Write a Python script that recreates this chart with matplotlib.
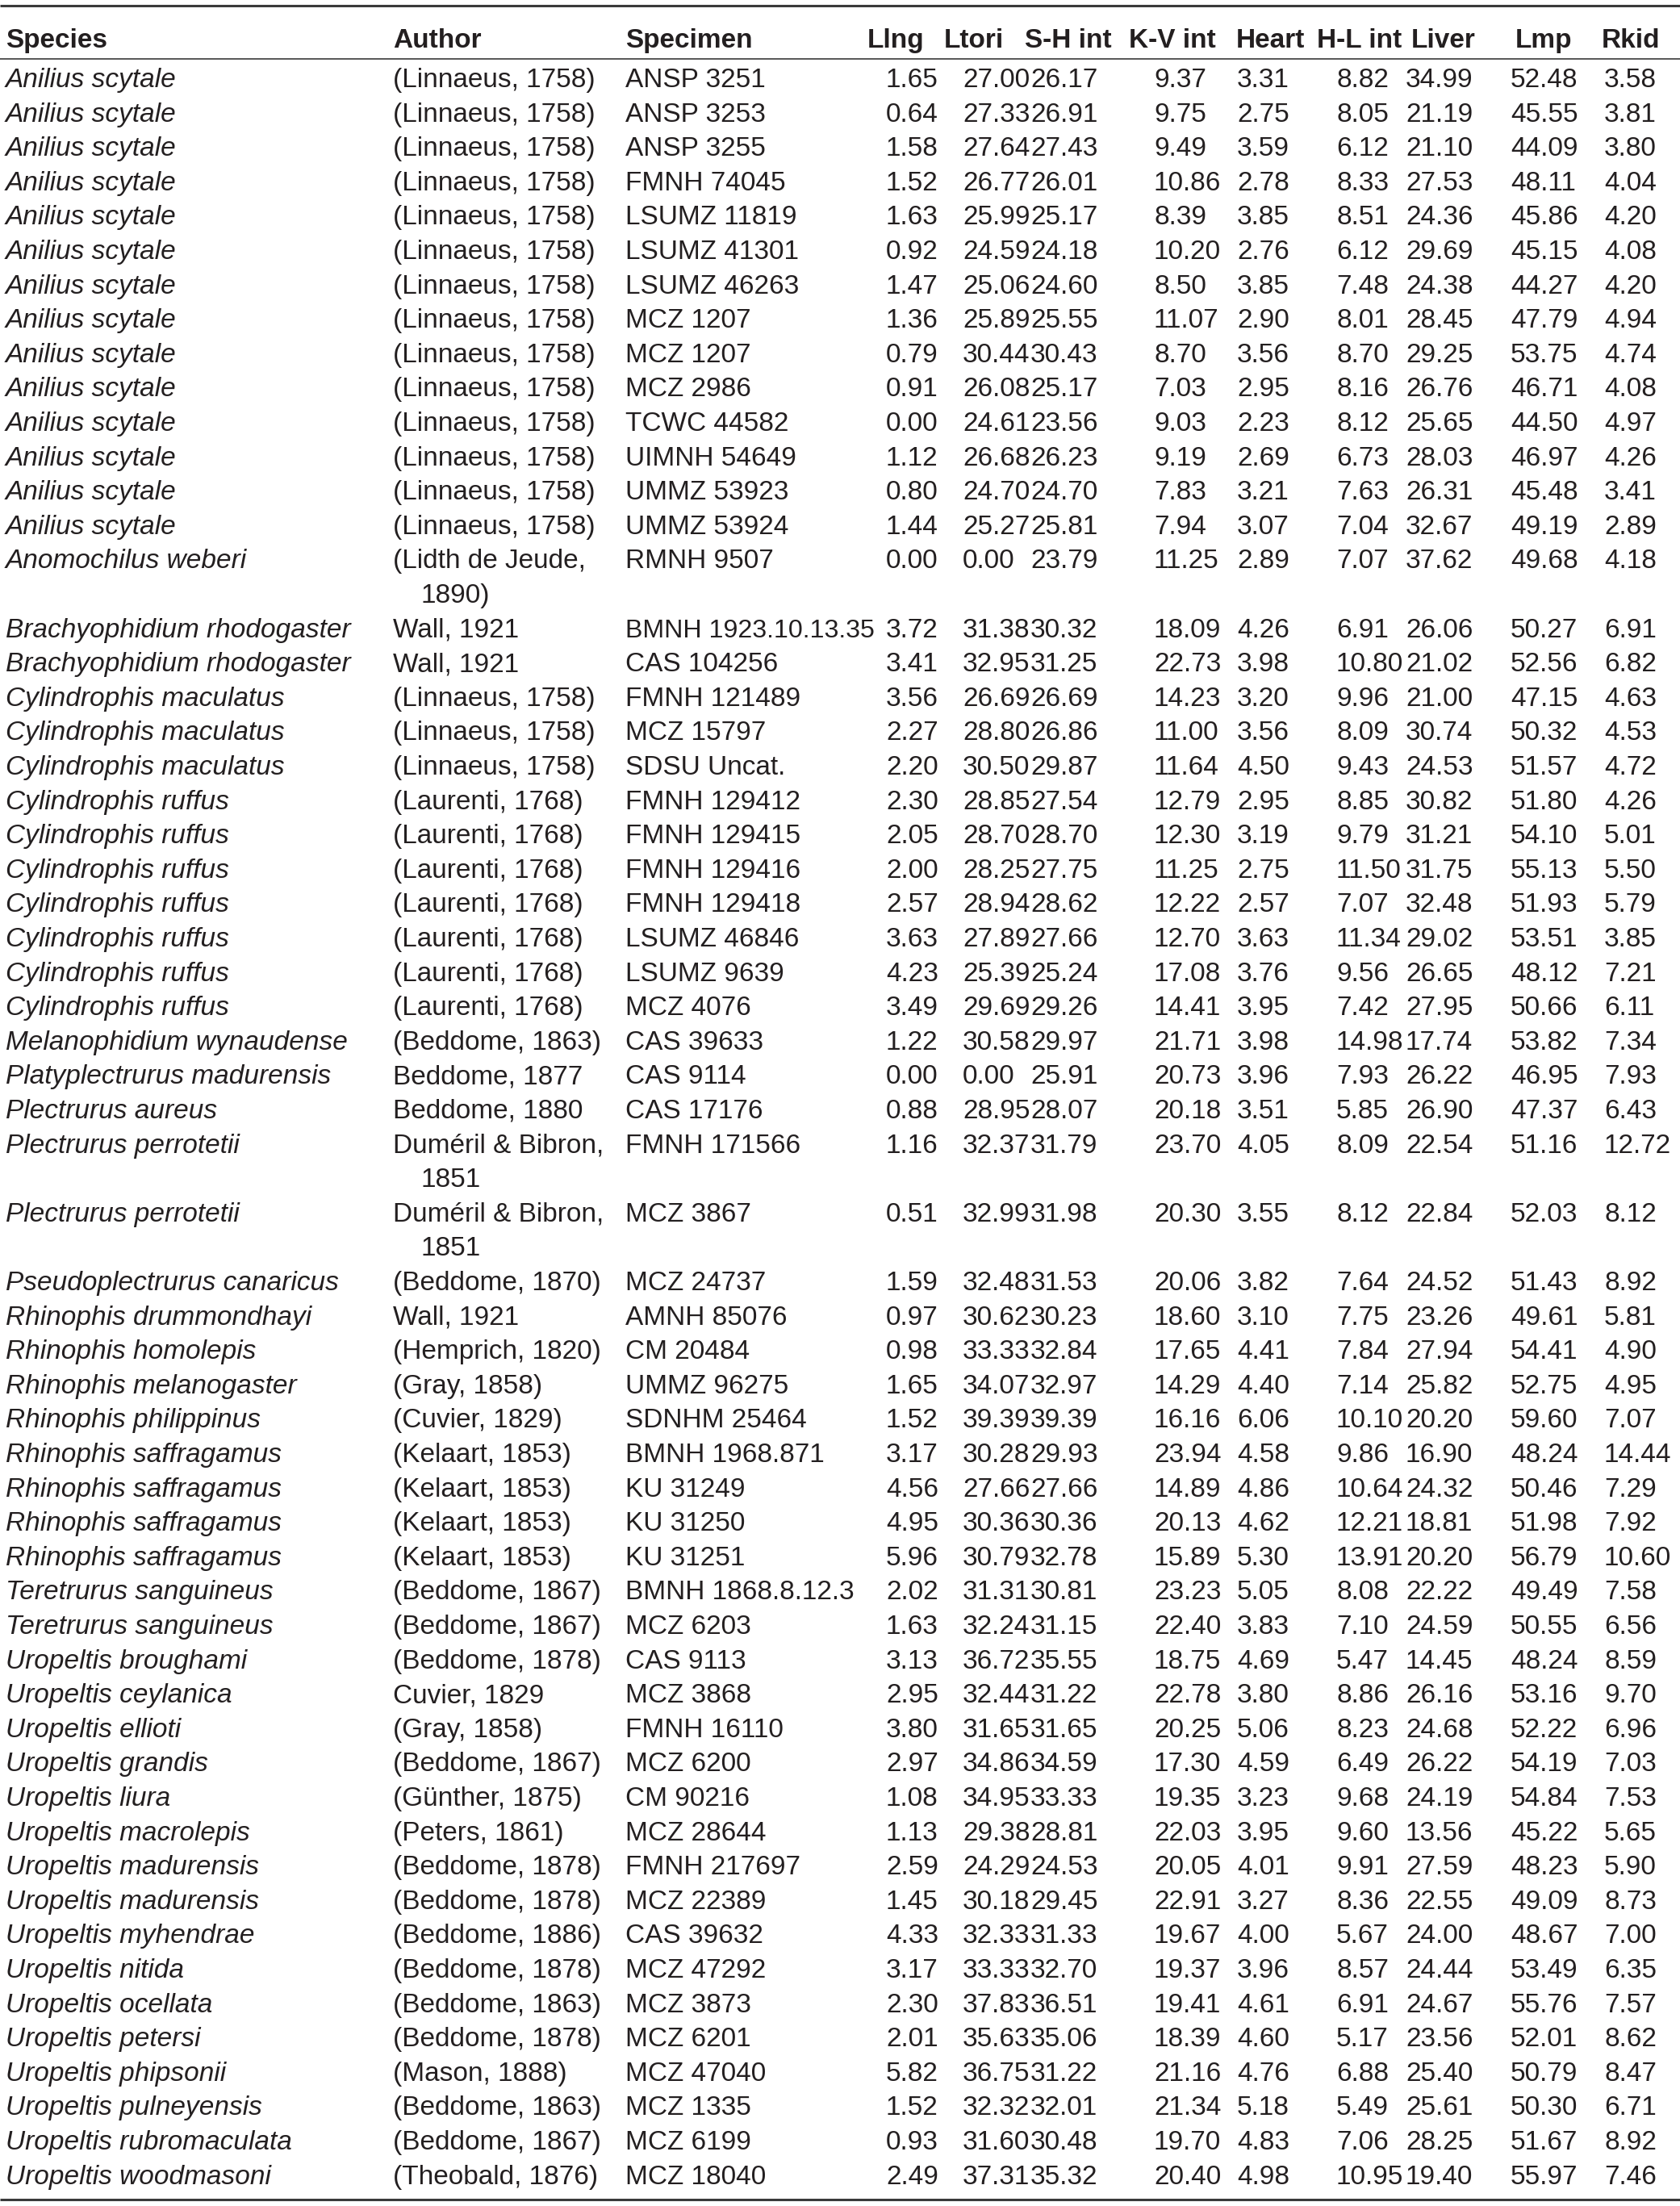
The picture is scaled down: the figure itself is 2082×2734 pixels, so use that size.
import matplotlib
matplotlib.use("Agg")
import matplotlib.pyplot as plt
from matplotlib import font_manager

# ---------------- data ----------------
headers = ["Species", "Author", "Specimen", "Llng", "Ltori", "S-H int", "K-V int",
           "Heart", "H-L int", "Liver", "Lmp", "Rkid"]

species = (["Anilius scytale"] * 14 + ["Anomochilus weberi"] +
           ["Brachyophidium rhodogaster"] * 2 + ["Cylindrophis maculatus"] * 3 +
           ["Cylindrophis ruffus"] * 7 + ["Melanophidium wynaudense",
           "Platyplectrurus madurensis", "Plectrurus aureus",
           "Plectrurus perrotetii", "Plectrurus perrotetii",
           "Pseudoplectrurus canaricus", "Rhinophis drummondhayi",
           "Rhinophis homolepis", "Rhinophis melanogaster", "Rhinophis philippinus"] +
           ["Rhinophis saffragamus"] * 4 + ["Teretrurus sanguineus"] * 2 +
           ["Uropeltis broughami", "Uropeltis ceylanica", "Uropeltis ellioti",
            "Uropeltis grandis", "Uropeltis liura", "Uropeltis macrolepis",
            "Uropeltis madurensis", "Uropeltis madurensis", "Uropeltis myhendrae",
            "Uropeltis nitida", "Uropeltis ocellata", "Uropeltis petersi",
            "Uropeltis phipsonii", "Uropeltis pulneyensis", "Uropeltis rubromaculata",
            "Uropeltis woodmasoni"])

authors = (["(Linnaeus, 1758)"] * 14 + ["(Lidth de Jeude,\n1890)"] +
           ["Wall, 1921"] * 2 + ["(Linnaeus, 1758)"] * 3 + ["(Laurenti, 1768)"] * 7 +
           ["(Beddome, 1863)", "Beddome, 1877", "Beddome, 1880",
            "Duméril & Bibron,\n1851", "Duméril & Bibron,\n1851",
            "(Beddome, 1870)", "Wall, 1921", "(Hemprich, 1820)", "(Gray, 1858)",
            "(Cuvier, 1829)"] + ["(Kelaart, 1853)"] * 4 + ["(Beddome, 1867)"] * 2 +
           ["(Beddome, 1878)", "Cuvier, 1829", "(Gray, 1858)", "(Beddome, 1867)",
            "(Günther, 1875)", "(Peters, 1861)", "(Beddome, 1878)", "(Beddome, 1878)",
            "(Beddome, 1886)", "(Beddome, 1878)", "(Beddome, 1863)", "(Beddome, 1878)",
            "(Mason, 1888)", "(Beddome, 1863)", "(Beddome, 1867)", "(Theobald, 1876)"])

specimens = ["ANSP 3251", "ANSP 3253", "ANSP 3255", "FMNH 74045", "LSUMZ 11819",
             "LSUMZ 41301", "LSUMZ 46263", "MCZ 1207", "MCZ 1207", "MCZ 2986",
             "TCWC 44582", "UIMNH 54649", "UMMZ 53923", "UMMZ 53924", "RMNH 9507",
             "BMNH 1923.10.13.35", "CAS 104256", "FMNH 121489", "MCZ 15797",
             "SDSU Uncat.", "FMNH 129412", "FMNH 129415", "FMNH 129416",
             "FMNH 129418", "LSUMZ 46846", "LSUMZ 9639", "MCZ 4076", "CAS 39633",
             "CAS 9114", "CAS 17176", "FMNH 171566", "MCZ 3867", "MCZ 24737",
             "AMNH 85076", "CM 20484", "UMMZ 96275", "SDNHM 25464", "BMNH 1968.871",
             "KU 31249", "KU 31250", "KU 31251", "BMNH 1868.8.12.3", "MCZ 6203",
             "CAS 9113", "MCZ 3868", "FMNH 16110", "MCZ 6200", "CM 90216",
             "MCZ 28644", "FMNH 217697", "MCZ 22389", "CAS 39632", "MCZ 47292",
             "MCZ 3873", "MCZ 6201", "MCZ 47040", "MCZ 1335", "MCZ 6199", "MCZ 18040"]

llng = [1.65, 0.64, 1.58, 1.52, 1.63, 0.92, 1.47, 1.36, 0.79, 0.91, 0.00, 1.12, 0.80,
        1.44, 0.00, 3.72, 3.41, 3.56, 2.27, 2.20, 2.30, 2.05, 2.00, 2.57, 3.63, 4.23,
        3.49, 1.22, 0.00, 0.88, 1.16, 0.51, 1.59, 0.97, 0.98, 1.65, 1.52, 3.17, 4.56,
        4.95, 5.96, 2.02, 1.63, 3.13, 2.95, 3.80, 2.97, 1.08, 1.13, 2.59, 1.45, 4.33,
        3.17, 2.30, 2.01, 5.82, 1.52, 0.93, 2.49]

ltori = [27.00, 27.33, 27.64, 26.77, 25.99, 24.59, 25.06, 25.89, 30.44, 26.08, 24.61,
         26.68, 24.70, 25.27, 0.00, 31.38, 32.95, 26.69, 28.80, 30.50, 28.85, 28.70,
         28.25, 28.94, 27.89, 25.39, 29.69, 30.58, 0.00, 28.95, 32.37, 32.99, 32.48,
         30.62, 33.33, 34.07, 39.39, 30.28, 27.66, 30.36, 30.79, 31.31, 32.24, 36.72,
         32.44, 31.65, 34.86, 34.95, 29.38, 24.29, 30.18, 32.33, 33.33, 37.83, 35.63,
         36.75, 32.32, 31.60, 37.31]

sh_int = [26.17, 26.91, 27.43, 26.01, 25.17, 24.18, 24.60, 25.55, 30.43, 25.17, 23.56,
          26.23, 24.70, 25.81, 23.79, 30.32, 31.25, 26.69, 26.86, 29.87, 27.54, 28.70,
          27.75, 28.62, 27.66, 25.24, 29.26, 29.97, 25.91, 28.07, 31.79, 31.98, 31.53,
          30.23, 32.84, 32.97, 39.39, 29.93, 27.66, 30.36, 32.78, 30.81, 31.15, 35.55,
          31.22, 31.65, 34.59, 33.33, 28.81, 24.53, 29.45, 31.33, 32.70, 36.51, 35.06,
          31.22, 32.01, 30.48, 35.32]

kv_int = [9.37, 9.75, 9.49, 10.86, 8.39, 10.20, 8.50, 11.07, 8.70, 7.03, 9.03, 9.19,
          7.83, 7.94, 11.25, 18.09, 22.73, 14.23, 11.00, 11.64, 12.79, 12.30, 11.25,
          12.22, 12.70, 17.08, 14.41, 21.71, 20.73, 20.18, 23.70, 20.30, 20.06, 18.60,
          17.65, 14.29, 16.16, 23.94, 14.89, 20.13, 15.89, 23.23, 22.40, 18.75, 22.78,
          20.25, 17.30, 19.35, 22.03, 20.05, 22.91, 19.67, 19.37, 19.41, 18.39, 21.16,
          21.34, 19.70, 20.40]

heart = [3.31, 2.75, 3.59, 2.78, 3.85, 2.76, 3.85, 2.90, 3.56, 2.95, 2.23, 2.69, 3.21,
         3.07, 2.89, 4.26, 3.98, 3.20, 3.56, 4.50, 2.95, 3.19, 2.75, 2.57, 3.63, 3.76,
         3.95, 3.98, 3.96, 3.51, 4.05, 3.55, 3.82, 3.10, 4.41, 4.40, 6.06, 4.58, 4.86,
         4.62, 5.30, 5.05, 3.83, 4.69, 3.80, 5.06, 4.59, 3.23, 3.95, 4.01, 3.27, 4.00,
         3.96, 4.61, 4.60, 4.76, 5.18, 4.83, 4.98]

hl_int = [8.82, 8.05, 6.12, 8.33, 8.51, 6.12, 7.48, 8.01, 8.70, 8.16, 8.12, 6.73, 7.63,
          7.04, 7.07, 6.91, 10.80, 9.96, 8.09, 9.43, 8.85, 9.79, 11.50, 7.07, 11.34,
          9.56, 7.42, 14.98, 7.93, 5.85, 8.09, 8.12, 7.64, 7.75, 7.84, 7.14, 10.10, 9.86,
          10.64, 12.21, 13.91, 8.08, 7.10, 5.47, 8.86, 8.23, 6.49, 9.68, 9.60, 9.91, 8.36,
          5.67, 8.57, 6.91, 5.17, 6.88, 5.49, 7.06, 10.95]

liver = [34.99, 21.19, 21.10, 27.53, 24.36, 29.69, 24.38, 28.45, 29.25, 26.76, 25.65,
         28.03, 26.31, 32.67, 37.62, 26.06, 21.02, 21.00, 30.74, 24.53, 30.82, 31.21,
         31.75, 32.48, 29.02, 26.65, 27.95, 17.74, 26.22, 26.90, 22.54, 22.84, 24.52,
         23.26, 27.94, 25.82, 20.20, 16.90, 24.32, 18.81, 20.20, 22.22, 24.59, 14.45,
         26.16, 24.68, 26.22, 24.19, 13.56, 27.59, 22.55, 24.00, 24.44, 24.67, 23.56,
         25.40, 25.61, 28.25, 19.40]

lmp = [52.48, 45.55, 44.09, 48.11, 45.86, 45.15, 44.27, 47.79, 53.75, 46.71, 44.50,
       46.97, 45.48, 49.19, 49.68, 50.27, 52.56, 47.15, 50.32, 51.57, 51.80, 54.10,
       55.13, 51.93, 53.51, 48.12, 50.66, 53.82, 46.95, 47.37, 51.16, 52.03, 51.43,
       49.61, 54.41, 52.75, 59.60, 48.24, 50.46, 51.98, 56.79, 49.49, 50.55, 48.24,
       53.16, 52.22, 54.19, 54.84, 45.22, 48.23, 49.09, 48.67, 53.49, 55.76, 52.01,
       50.79, 50.30, 51.67, 55.97]

rkid = [3.58, 3.81, 3.80, 4.04, 4.20, 4.08, 4.20, 4.94, 4.74, 4.08, 4.97, 4.26, 3.41,
        2.89, 4.18, 6.91, 6.82, 4.63, 4.53, 4.72, 4.26, 5.01, 5.50, 5.79, 3.85, 7.21,
        6.11, 7.34, 7.93, 6.43, 12.72, 8.12, 8.92, 5.81, 4.90, 4.95, 7.07, 14.44, 7.29,
        7.92, 10.60, 7.58, 6.56, 8.59, 9.70, 6.96, 7.03, 7.53, 5.65, 5.90, 8.73, 7.00,
        6.35, 7.57, 8.62, 8.47, 6.71, 8.92, 7.46]

numeric_cols = [llng, ltori, sh_int, kv_int, heart, hl_int, liver, lmp, rkid]

# ---------------- layout ----------------
W, H = 2082, 2734
header_x = [7, 487, 775, 1075, 1170, 1270, 1399, 1532, 1632, 1749, 1878, 1985]
data_x = [7, 487, 775, 1098, 1193, 1277, 1430, 1533, 1656, 1742, 1872, 1988]
wrap_indent = 35
fs = 24
txt_color = "#231f20"
family = ["Liberation Sans", "DejaVu Sans"]

try:
    font_manager.findfont("Liberation Sans Narrow", fallback_to_default=False)
    narrow_family = ["Liberation Sans Narrow", "Liberation Sans"]
except Exception:
    narrow_family = None

y_header = 47
y_first = 96
dy = 42.6
cap_half = 12.0

fig = plt.figure(figsize=(W / 100, H / 100), dpi=100)
ax = fig.add_axes([0, 0, 1, 1])
ax.set_xlim(0, W)
ax.set_ylim(H, 0)
ax.axis("off")

rule_color = "#3a3a3a"
ax.plot([0, W], [7, 7], color=rule_color, lw=2.2, solid_capstyle="butt")
ax.plot([0, W], [73, 73], color=rule_color, lw=1.2, solid_capstyle="butt")
ax.plot([0, W], [2726, 2726], color=rule_color, lw=2.2, solid_capstyle="butt")

for hx, h in zip(header_x, headers):
    ax.text(hx, y_header + cap_half, h, fontsize=fs, fontweight="bold",
            family=family, color=txt_color, va="baseline", ha="left")

spec_texts = []
line = 0
for i in range(len(species)):
    y = y_first + line * dy
    ax.text(data_x[0], y + cap_half, species[i], fontsize=fs, style="italic",
            family=family, color=txt_color, va="baseline", ha="left")
    a_lines = authors[i].split("\n")
    for k, al in enumerate(a_lines):
        ax.text(data_x[1] + (wrap_indent if k > 0 else 0), y + k * dy + cap_half, al,
                fontsize=fs, family=family, color=txt_color, va="baseline", ha="left")
    spec_texts.append(ax.text(data_x[2], y + cap_half, specimens[i], fontsize=fs,
                              family=family, color=txt_color, va="baseline", ha="left"))
    for j, col in enumerate(numeric_cols):
        ax.text(data_x[3 + j], y + cap_half, f"{col[i]:.2f}", fontsize=fs,
                family=family, color=txt_color, va="baseline", ha="left")
    line += len(a_lines)

# condense specimen entries that would run into the next column (as in the print)
fig.canvas.draw()
renderer = fig.canvas.get_renderer()
avail = data_x[3] - data_x[2] - 14
for t in spec_texts:
    w = t.get_window_extent(renderer).width
    if w > avail:
        if narrow_family is not None:
            t.set_family(narrow_family)
            fig.canvas.draw()
            w2 = t.get_window_extent(renderer).width
            if w2 > avail:
                t.set_fontsize(fs * avail / w2)
        else:
            t.set_fontsize(fs * avail / w)

fig.savefig("out.png", dpi=100, facecolor="white")
